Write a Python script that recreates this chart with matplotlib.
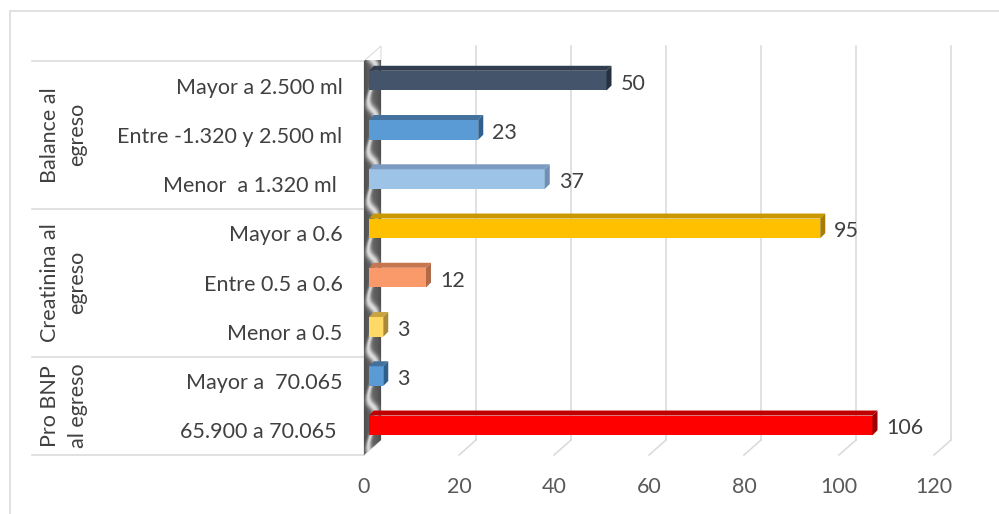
import numpy as np
import matplotlib
matplotlib.use("Agg")
import matplotlib.pyplot as plt
from matplotlib.patches import Polygon
from matplotlib.transforms import ScaledTranslation, blended_transform_factory

# categories listed bottom to top
categories = ["65.900 a 70.065 ", "Mayor a  70.065", "Menor a 0.5", "Entre 0.5 a 0.6",
              "Mayor a 0.6", "Menor  a 1.320 ml ", "Entre -1.320 y 2.500 ml", "Mayor a 2.500 ml"]
values = [106, 3, 3, 12, 95, 37, 23, 50]
groups = ["Pro BNP\nal egreso", "Creatinina al\negreso", "Balance al\negreso"]
group_bounds = [(-0.5, 1.5), (1.5, 4.5), (4.5, 7.5)]
x_ticks = [0, 20, 40, 60, 80, 100, 120]

# front / top / side face colours per bar
front_colors = ["#ff0000", "#5b9bd5", "#ffd966", "#fa9a6a", "#ffc000", "#9dc3e6", "#5b9bd5", "#44546a"]
top_colors = ["#c00000", "#41719c", "#c9a33f", "#c8764f", "#c99700", "#7b9cc0", "#41719c", "#323e4f"]
side_colors = ["#9c0000", "#2f5f8c", "#a98a36", "#b06a48", "#a67d00", "#6f8fb3", "#2f5f8c", "#263140"]

FONT = "Lato"
FS = 15.5

W, H = 999, 514
fig = plt.figure(figsize=(W / 100, H / 100), dpi=100)
fig.patch.set_facecolor("white")

# background layer in pixel units for frame and wall
bg = fig.add_axes([0, 0, 1, 1], zorder=0)
bg.set_xlim(0, W)
bg.set_ylim(H, 0)
bg.axis("off")

ax_left, ax_right, ax_top, ax_bottom = 364, 934, 61, 455
ax = fig.add_axes([ax_left / W, (H - ax_bottom) / H, (ax_right - ax_left) / W, (ax_bottom - ax_top) / H], zorder=1)
ax.set_facecolor("none")
ax.set_xlim(0, 120)
ax.set_ylim(-0.5, 7.5)
for s in ax.spines.values():
    s.set_visible(False)

px_x = (ax_right - ax_left) / 120.0   # pixels per unit
px_y = (ax_bottom - ax_top) / 8.0     # pixels per category

def shift(dx, dy):
    return ScaledTranslation(dx / 100, dy / 100, fig.dpi_scale_trans)

grid_c = "#d9d9d9"
lw = 1.1

# outer frame
bg.plot([10, 10, W], [H, 11, 11], color=grid_c, lw=lw)

# back gridlines plus floor diagonals
depth_x, depth_y = 17, 15
back = ax.transData + shift(depth_x, depth_y)
for v in x_ticks[1:]:
    ax.plot([v, v], [-0.5, 7.5], color=grid_c, lw=lw, transform=back, clip_on=False, zorder=0)
    ax.plot([v, v + depth_x / px_x], [-0.5, -0.5 + depth_y / px_y], color=grid_c, lw=lw,
            clip_on=False, zorder=0)

# left wall with shaded texture
wx, wy = depth_x / px_x, depth_y / px_y
wall = Polygon([(0, -0.5), (0, 7.5), (wx, 7.5 + wy), (wx, -0.5 + wy)], closed=True,
               facecolor="none", edgecolor="#c8c8c8", lw=0.5, transform=ax.transData, clip_on=False, zorder=1)
ax.add_patch(wall)
nr, nc = 1700, 70
u = np.linspace(0, 1, nc)[None, :]
yd = np.linspace(7.5 + wy, -0.5, nr)[:, None]
t = yd * px_y - depth_y * u
band = 0.5 + 0.25 * np.sin(2 * np.pi * t / px_y + 1.0)
shade = 0.3 + 0.5 * np.exp(-((u - band) / 0.17) ** 2) + 0.08 * np.sin(np.pi * u)
img = np.dstack([shade, shade, shade])
im = ax.imshow(img, extent=(0, wx, -0.5, 7.5 + wy), aspect="auto", interpolation="bilinear", zorder=1)
im.set_clip_path(wall)
im.set_clip_box(None)
ax.set_xlim(0, 120)
ax.set_ylim(-0.5, 7.5)

# bars: front face, top face, side face
bar_tr = ax.transData + shift(5, 5)
h = 0.4
dd_x, dd_y = 5 / px_x, 5 / px_y
ys = np.arange(len(values))
ax.barh(ys, values, height=h, color=front_colors, transform=bar_tr, zorder=3, clip_on=False)
for y, v, tc, sc in zip(ys, values, top_colors, side_colors):
    top = y + h / 2
    ax.add_patch(Polygon([(0, top), (v, top), (v + dd_x, top + dd_y), (dd_x, top + dd_y)],
                         closed=True, facecolor=tc, edgecolor="none", transform=bar_tr, zorder=3, clip_on=False))
    ax.add_patch(Polygon([(v, y - h / 2), (v, top), (v + dd_x, top + dd_y), (v + dd_x, y - h / 2 + dd_y)],
                         closed=True, facecolor=sc, edgecolor="none", transform=bar_tr, zorder=3, clip_on=False))
    ax.text(v, y, str(v), transform=bar_tr + shift(14, -3), ha="left", va="center",
            fontsize=FS, color="#404040", family=FONT, zorder=4)

# axis labels
ax.set_yticks(ys)
ax.set_yticklabels(categories, fontsize=FS, color="#404040", family=FONT)
ax.set_xticks(x_ticks)
ax.set_xticklabels([str(v) for v in x_ticks], fontsize=FS, color="#595959", family=FONT)
ax.tick_params(axis="y", length=0, pad=15.5)
ax.tick_params(axis="x", length=0, pad=16)

# group table lines and rotated group titles
tbl = blended_transform_factory(bg.transData, ax.transData)
for yb in [-0.5, 1.5, 4.5, 7.5]:
    bg.plot([32, ax_left], [yb, yb], color=grid_c, lw=lw, transform=tbl, clip_on=False)
for name, (lo, hi) in zip(groups, group_bounds):
    bg.text(64, (lo + hi) / 2, name, transform=tbl, rotation=90, ha="center", va="center",
            fontsize=FS, color="#404040", family=FONT, linespacing=1.45, multialignment="center")

fig.savefig("out.png", dpi=100)
